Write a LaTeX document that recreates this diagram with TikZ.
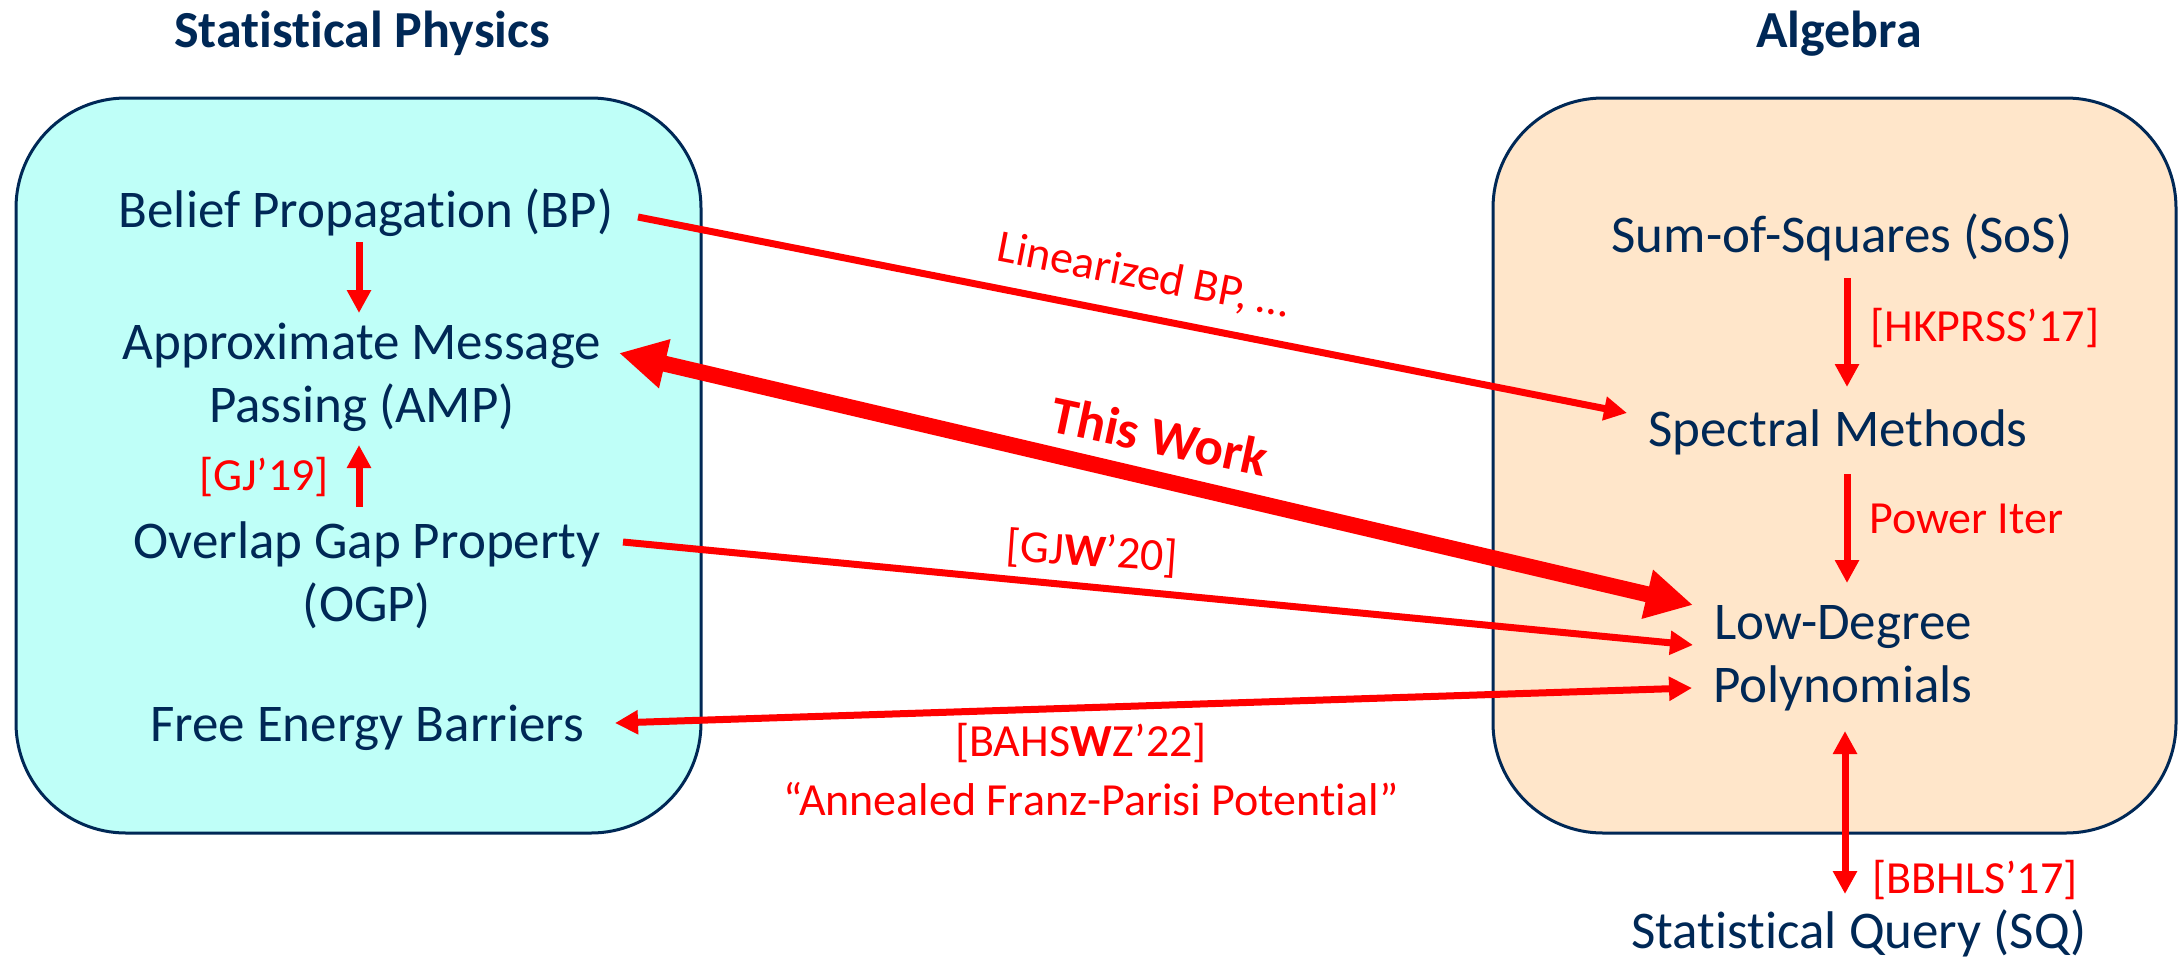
\documentclass[tikz,border=0pt]{standalone}
\usepackage{fontspec}
\setmainfont{Carlito}[Ligatures=NoCommon]
\usetikzlibrary{arrows.meta}
\definecolor{navy}{HTML}{002856}
\definecolor{physfill}{HTML}{BFFFF8}
\definecolor{algfill}{HTML}{FFE6CA}
\definecolor{arrred}{HTML}{FF0000}
\begin{document}
\begin{tikzpicture}[x=1pt,y=-1pt,
  box/.style={draw=navy, line width=3pt, rounded corners=110pt, inner sep=0pt},
  main/.style={text=navy, font=\fontsize{53}{63}\selectfont, align=center, inner sep=0pt, anchor=base},
  ttl/.style={text=navy, font=\fontsize{52}{62}\selectfont\bfseries, inner sep=0pt, anchor=base},
  lab/.style={text=arrred, font=\fontsize{46}{55}\selectfont, inner sep=0pt, anchor=base},
  conn/.style={draw=arrred, line width=7pt, -{Triangle[length=23pt,width=23pt]}},
  dconn/.style={draw=arrred, line width=7pt, {Triangle[length=23pt,width=23pt]}-{Triangle[length=23pt,width=23pt]}},
  bigconn/.style={draw=arrred, line width=16pt, {Triangle[length=47pt,width=47pt]}-{Triangle[length=47pt,width=47pt]}},
]
\useasboundingbox (0,0) rectangle (2183,959);
\node[box, fill=physfill, minimum width=685pt, minimum height=735pt] (phys) at (358.5,465.5) {};
\node[box, fill=algfill, minimum width=683pt, minimum height=735pt] (alg) at (1834.5,465.5) {};

\node[ttl] (tl) at (362,47) {Statistical Physics};
\node[ttl] (tr) at (1839,47) {Algebra};

\node[main] (bp) at (366,227) {Belief Propagation (BP)};
\node[main] (amp) at (362,422) {Approximate Message\\Passing (AMP)};
\node[main] (ogp) at (367,621) {Overlap Gap Property\\(OGP)};
\node[main] (feb) at (367,741) {Free Energy Barriers};
\node[main] (sos) at (1842,252) {Sum-of-Squares (SoS)};
\node[main] (spec) at (1838,446) {Spectral Methods};
\node[main] (ld) at (1843,702) {Low-Degree\\Polynomials};
\node[main] (sq) at (1859,948) {Statistical Query (SQ)};

\draw[conn] ([shift={(-7,15)}]bp.base) -- ([shift={(-3,-109)}]amp.base);
\draw[conn] ([shift={(-8,-114)}]ogp.base) -- ([shift={(-3,23)}]amp.base);
\draw[conn] ([shift={(5,26)}]sos.base) -- ([shift={(9,-59)}]spec.base);
\draw[conn] ([shift={(9,28)}]spec.base) -- ([shift={(4,-119)}]ld.base);
\draw[dconn] ([shift={(2,29)}]ld.base) -- ([shift={(-14,-54)}]sq.base);
\draw[conn] ([shift={(272,-10)}]bp.base) -- ([shift={(-211,-33)}]spec.base);
\draw[bigconn] ([shift={(257,-69)}]amp.base) -- ([shift={(-150,-97)}]ld.base);
\draw[conn] ([shift={(256,-79)}]ogp.base) -- ([shift={(-150,-57)}]ld.base);
\draw[dconn] ([shift={(248,-18)}]feb.base) -- ([shift={(-151,-14)}]ld.base);

\node[lab] (gj) at (264,490) {[GJ’19]};
\node[lab, anchor=base west] (hk) at (1870,341) {[HKPRSS’17]};
\node[lab, anchor=base west] (pw) at (1869,533) {Power Iter};
\node[lab, anchor=base west] (bb) at (1872,893) {[BBHLS’17]};
\node[lab, rotate=-11] (lin) at (1141,289) {Linearized BP, …};
\node[lab, font=\fontsize{53}{63}\selectfont\bfseries, rotate=-12] (tw) at (1156,454) {This Work};
\node[lab, rotate=-4] (gjw) at (1091,566) {[GJ\textbf{W}’20]};
\node[lab] (bah) at (1081,756) {[BAHS\textbf{W}Z’22]};
\node[lab] (ann) at (1091,815) {“Annealed Franz-Parisi Potential”};
\end{tikzpicture}
\end{document}
